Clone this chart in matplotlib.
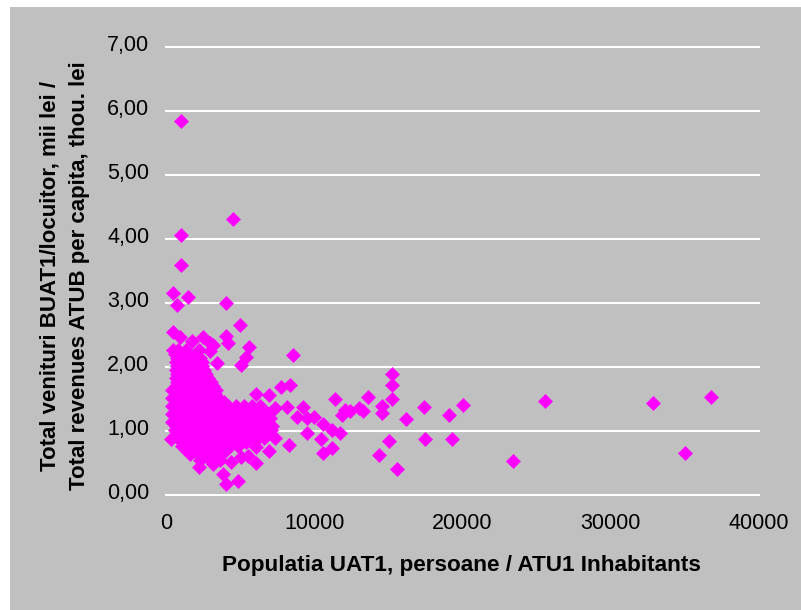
import matplotlib
matplotlib.use('Agg')
import matplotlib.pyplot as plt
from matplotlib.patches import Rectangle
from matplotlib.transforms import ScaledTranslation

plt.rcParams['font.family'] = ['Liberation Sans', 'DejaVu Sans']

# isolated points
pop_sparse = [1010, 4520, 1010, 1010, 470, 1480, 740, 4050, 4990, 470, 940, 1750, 2500, 4050, 4180,
              5600, 2970, 3170, 2970, 5400, 8570, 3440, 5060, 7760, 8360, 6070, 6950, 11400, 11870,
              12410, 13020, 9240, 8160, 7350, 8840, 9510, 9980, 10590, 11200, 11740, 9510, 10450,
              11200, 10590, 8300, 6950, 6070, 7350, 6070, 5530, 5060, 4380, 4860, 4050, 3840, 2230,
              3170, 340, 15240, 15240, 15240, 13620, 14570, 14570, 17400, 20030, 19090, 16190, 13290,
              12070, 15040, 17470, 19290, 14370, 15580, 25560, 32850, 36760, 35010, 23410]
rev_sparse = [5.85, 4.31, 4.06, 3.59, 3.15, 3.09, 2.96, 3.00, 2.65, 2.55, 2.47, 2.41, 2.47, 2.48, 2.37,
              2.31, 2.37, 2.34, 2.25, 2.15, 2.19, 2.06, 2.03, 1.69, 1.72, 1.58, 1.56, 1.50, 1.25,
              1.31, 1.36, 1.37, 1.37, 1.36, 1.22, 1.20, 1.22, 1.11, 1.01, 0.97, 0.97, 0.87,
              0.73, 0.65, 0.78, 0.68, 0.74, 0.89, 0.50, 0.60, 0.59, 0.51, 0.21, 0.17, 0.32, 0.43,
              0.48, 0.87, 1.89, 1.72, 1.50, 1.53, 1.39, 1.28, 1.37, 1.40, 1.25, 1.18, 1.31,
              1.33, 0.84, 0.87, 0.87, 0.62, 0.40, 1.47, 1.44, 1.53, 0.65, 0.53]

# dense cloud of small communes, one list per revenue level
rev_levels = [2.26, 2.20, 2.14, 2.07, 2.01, 1.95, 1.89, 1.82, 1.76, 1.70, 1.64, 1.57, 1.51, 1.45, 1.39,
              1.32, 1.26, 1.20, 1.14, 1.07, 1.01, 0.95, 0.89, 0.82, 0.76, 0.70, 0.64, 0.54]
pop_levels = [
    [500, 810, 1350, 2230],
    [600, 1100, 2000],
    [740, 1100, 1480, 2020, 2300],
    [670, 1210, 1750, 2400],
    [740, 1100, 1480, 2020, 2400],
    [670, 1210, 1750, 2290, 2560],
    [740, 1100, 1480, 2020, 2700],
    [670, 1210, 1750, 2290, 2830],
    [740, 1100, 1480, 2020, 2560, 3035],
    [670, 1210, 1750, 2290, 2830, 3200],
    [400, 940, 1480, 2020, 2560, 3100, 3370],
    [670, 1210, 1750, 2290, 2830, 3300],
    [400, 940, 1480, 2020, 2560, 3100, 3510],
    [670, 1210, 1750, 2290, 2830, 3370, 3900],
    [400, 940, 1480, 2020, 2560, 3100, 3640, 4180, 4720, 5260, 5800, 6340],
    [670, 1210, 1750, 2290, 2830, 3370, 3910, 4450, 4990, 5530, 6070, 6610],
    [400, 940, 1480, 2020, 2560, 3100, 3640, 4180, 4720, 5260, 5800, 6340, 6880],
    [670, 1210, 1750, 2290, 2830, 3370, 3910, 4450, 4990, 5530, 6070, 6610, 7000],
    [400, 940, 1480, 2020, 2560, 3100, 3640, 4180, 4720, 5260, 5800, 6340, 6880],
    [670, 1210, 1750, 2290, 2830, 3370, 3910, 4450, 4990, 5530, 6070, 6610, 7150],
    [610, 1150, 1690, 2230, 2770, 3310, 3850, 4390, 4930, 5470, 6010, 6550, 7080],
    [880, 1420, 1960, 2500, 3040, 3580, 4120, 4660, 5200, 5740, 6280, 6820],
    [810, 1350, 1890, 2430, 2970, 3510, 4050, 4590, 5130, 5670, 6210, 6610],
    [1080, 1620, 2160, 2700, 3240, 3780, 4320, 4860, 5400],
    [1080, 1620, 2160, 2700, 3240, 3780, 4320, 4860],
    [1350, 1890, 2430, 2970, 3510, 4050],
    [1620, 2160, 2700, 3240, 3780],
    [2300, 2970, 3640],
]

ytick_labels = ['0,00', '1,00', '2,00', '3,00', '4,00', '5,00', '6,00', '7,00']
xtick_values = [0, 10000, 20000, 30000, 40000]

W, H = 801, 610
fig = plt.figure(figsize=(W / 100, H / 100), dpi=100, facecolor='white')

# grey chart area, the picture is cropped so white shows only left and top
fig.add_artist(Rectangle((10 / W, 0), 1 - 10 / W, 1 - 7 / H, transform=fig.transFigure,
                         facecolor='#C0C0C0', edgecolor='none', zorder=-1))

ax = fig.add_axes([166 / W, 1 - 494.7 / H, (759 - 166) / W, (494.7 - 47) / H])
ax.patch.set_alpha(0)
for side in ax.spines.values():
    side.set_visible(False)

ax.set_xlim(0, 40000)
ax.set_ylim(0, 7)
ax.set_xticks(xtick_values)
ax.set_xticklabels([str(v) for v in xtick_values])
ax.set_yticks(range(8))
ax.set_yticklabels(ytick_labels)
ax.tick_params(length=0, labelsize=15.5, labelcolor='black')
ax.tick_params(axis='x', pad=13.5)
ax.tick_params(axis='y', pad=12)
ax.grid(axis='y', color='white', lw=1.5)
ax.set_axisbelow(True)
for line in ax.get_ygridlines():
    line.set_clip_on(False)

# value labels sit a little above their gridline in the original
shift_up = ScaledTranslation(0, 4 / 100, fig.dpi_scale_trans)
for label in ax.get_yticklabels():
    label.set_transform(label.get_transform() + shift_up)

for level, pops in zip(rev_levels, pop_levels):
    ax.scatter(pops, [level] * len(pops), marker='D', s=58, c='#FF00FF', linewidths=0, zorder=3, clip_on=False)
ax.scatter(pop_sparse, rev_sparse, marker='D', s=58, c='#FF00FF', linewidths=0, zorder=3, clip_on=False)

fig.text(461.5 / W, 1 - 566 / H, 'Populatia UAT1, persoane / ATU1 Inhabitants',
         ha='center', va='center', fontsize=16.2, fontweight='bold')
fig.text(65 / W, 1 - 276 / H, 'Total venituri BUAT1/locuitor, mii lei /\nTotal revenues ATUB per capita, thou. lei',
         ha='center', va='center', rotation=90, fontsize=16, fontweight='bold', multialignment='center',
         linespacing=1.5)

fig.savefig('out.png', dpi=100, facecolor=fig.get_facecolor())
